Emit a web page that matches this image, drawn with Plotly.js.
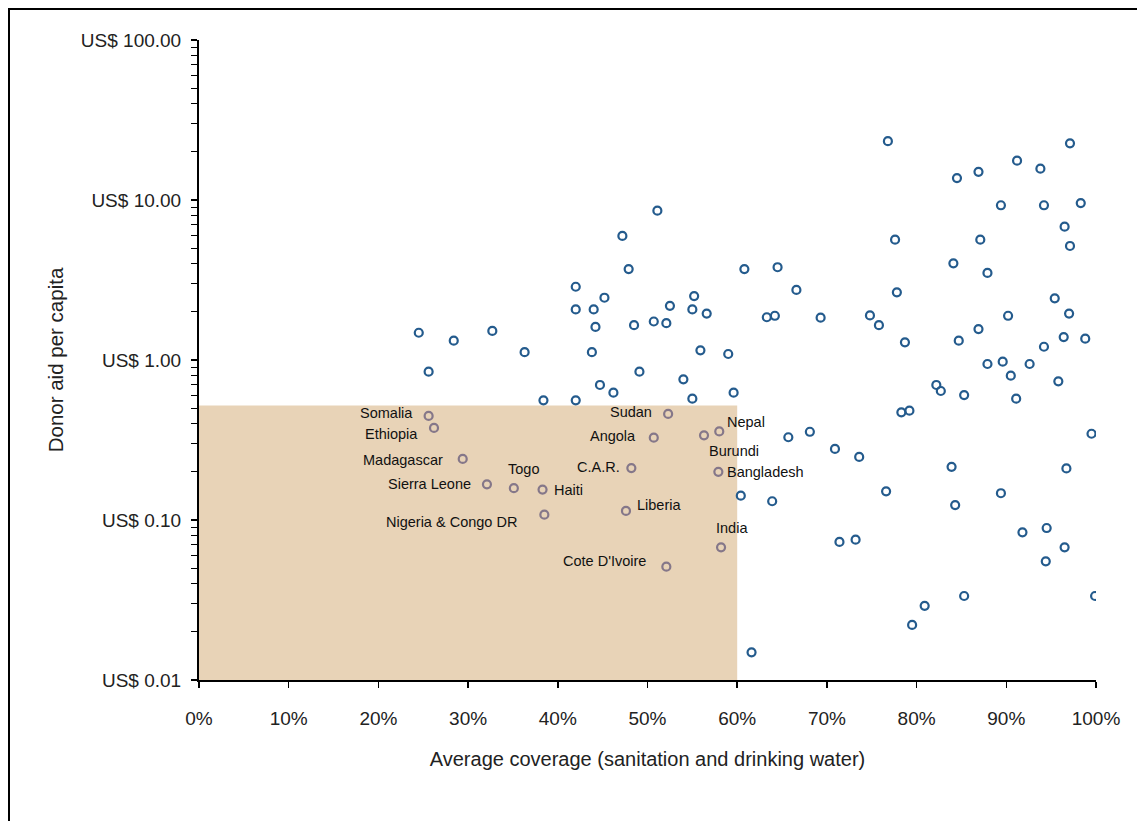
<!DOCTYPE html>
<html>
<head>
<meta charset="utf-8">
<script src="https://cdn.plot.ly/plotly-3.0.1.min.js"></script>
<style>
  html, body { margin: 0; padding: 0; background: #fff; }
  #frame {
    position: absolute; left: 8px; top: 8px; width: 1200px; height: 900px;
    border-left: 2px solid #000; border-top: 2px solid #000;
    pointer-events: none;
  }
  #chart { position: absolute; left: 0; top: 0; width: 1137px; height: 821px; }
</style>
</head>
<body>
<div id="chart"></div>
<div id="frame"></div>
<script>
// Countries without a label: average coverage (%) and donor aid per capita (US$)
const otherCoverage = [
  51.1, 47.2, 47.9, 42.0, 60.8, 64.5, 66.6, 45.2, 42.0, 44.0,
  55.2, 52.5, 55.0, 56.6, 44.2, 48.5, 50.7, 52.1, 63.3, 64.2,
  24.5, 28.4, 32.7, 36.3, 43.8, 55.9, 59.0, 25.6, 49.1, 54.0,
  44.7, 46.2, 59.6, 38.4, 42.0, 55.0,
  76.8, 97.1, 91.2, 93.8, 84.5, 86.9, 89.4, 94.2, 98.3, 96.5,
  97.1, 77.6, 87.1, 84.1, 87.9, 77.8, 95.4, 69.3, 74.8, 75.8,
  97.0, 90.2, 86.9, 78.7, 84.7, 96.4, 98.8, 94.2, 87.9, 89.6,
  92.6, 90.5, 95.8, 82.2, 82.7, 85.3, 91.1, 78.3, 79.2,
  65.7, 68.1, 70.9, 73.6, 76.6, 60.4, 63.9, 71.4, 73.2, 80.9,
  79.5, 61.6,
  99.5, 83.9, 96.7, 89.4, 84.3, 91.8, 94.5, 96.5, 94.4, 85.3, 99.9
];
const otherAid = [
  8.58, 5.96, 3.70, 2.87, 3.70, 3.80, 2.74, 2.45, 2.07, 2.07,
  2.51, 2.18, 2.07, 1.95, 1.61, 1.65, 1.74, 1.70, 1.85, 1.89,
  1.48, 1.32, 1.52, 1.12, 1.12, 1.15, 1.09, 0.845, 0.845, 0.757,
  0.698, 0.625, 0.625, 0.560, 0.560, 0.573,
  23.3, 22.6, 17.6, 15.7, 13.7, 15.0, 9.27, 9.27, 9.57, 6.81,
  5.16, 5.65, 5.65, 4.02, 3.50, 2.65, 2.43, 1.84, 1.90, 1.65,
  1.95, 1.89, 1.56, 1.29, 1.32, 1.39, 1.36, 1.21, 0.944, 0.976,
  0.944, 0.798, 0.736, 0.698, 0.640, 0.604, 0.573, 0.471, 0.482,
  0.329, 0.356, 0.278, 0.248, 0.151, 0.142, 0.131, 0.0729, 0.0753, 0.0291,
  0.0221, 0.0149,
  0.346, 0.215, 0.210, 0.147, 0.124, 0.0838, 0.0891, 0.0675, 0.0552, 0.0335, 0.0335
];

// Named countries (low coverage, low aid)
const countries = [
  "Somalia", "Ethiopia", "Madagascar", "Sierra Leone", "Togo", "Haiti",
  "Nigeria & Congo DR", "Sudan", "Angola", "Burundi", "Nepal", "Bangladesh",
  "C.A.R.", "Liberia", "India", "Cote D'Ivoire"
];
const countryCoverage = [
  25.6, 26.2, 29.4, 32.1, 35.1, 38.3,
  38.5, 52.3, 50.7, 56.3, 58.0, 57.9,
  48.2, 47.6, 58.2, 52.1
];
const countryAid = [
  0.447, 0.376, 0.241, 0.167, 0.158, 0.155,
  0.108, 0.460, 0.327, 0.338, 0.358, 0.200,
  0.211, 0.114, 0.0675, 0.0511
];

// Shaded zone: coverage below 60% and aid below this level
const zoneCoverageMax = 60;
const zoneAidMax = 0.52;
const axisAidMin = 0.01;

// Axis ticks
const yTickVals = [0.01, 0.1, 1, 10, 100];
const yTickText = ["US$ 0.01", "US$ 0.10", "US$ 1.00", "US$ 10.00", "US$ 100.00"];
const xTickVals = [0, 10, 20, 30, 40, 50, 60, 70, 80, 90, 100];
const xTickText = ["0%", "10%", "20%", "30%", "40%", "50%", "60%", "70%", "80%", "90%", "100%"];

// Where each country name sits next to its marker (pixels)
const labelPlacement = {
  "Somalia":            { anchor: "right",  dx: -14, dy: 3 },
  "Ethiopia":           { anchor: "right",  dx: -14, dy: -6 },
  "Madagascar":         { anchor: "right",  dx: -18, dy: -1 },
  "Sierra Leone":       { anchor: "right",  dx: -14, dy: 0 },
  "Togo":               { anchor: "center", dx: 10,  dy: 19 },
  "Haiti":              { anchor: "left",   dx: 9,   dy: 0 },
  "Nigeria & Congo DR": { anchor: "right",  dx: -25, dy: -7 },
  "Sudan":              { anchor: "right",  dx: -14, dy: 2 },
  "Angola":             { anchor: "right",  dx: -16, dy: 2 },
  "Burundi":            { anchor: "left",   dx: 3,   dy: -16 },
  "Nepal":              { anchor: "left",   dx: 6,   dy: 9 },
  "Bangladesh":         { anchor: "left",   dx: 7,   dy: 0 },
  "C.A.R.":             { anchor: "right",  dx: -9,  dy: 1 },
  "Liberia":            { anchor: "left",   dx: 9,   dy: 6 },
  "India":              { anchor: "center", dx: 11,  dy: 19 },
  "Cote D'Ivoire":      { anchor: "right",  dx: -18, dy: 6 }
};

const FONT = "'Liberation Sans Narrow', 'Arial Narrow', 'Liberation Sans', Arial, sans-serif";

// Minor ticks at 2..9 within each decade
const yMinor = [];
for (let e = -2; e < 2; e++) {
  for (let m = 2; m <= 9; m++) yMinor.push(m * Math.pow(10, e));
}

const traces = [
  // shaded low-coverage / low-aid zone
  {
    type: "scatter", mode: "lines",
    x: [0, zoneCoverageMax, zoneCoverageMax, 0, 0],
    y: [axisAidMin, axisAidMin, zoneAidMax, zoneAidMax, axisAidMin],
    fill: "toself", fillcolor: "#e8d3b7",
    line: { width: 0, color: "rgba(0,0,0,0)" },
    hoverinfo: "skip", showlegend: false
  },
  {
    type: "scatter", mode: "markers",
    x: otherCoverage, y: otherAid,
    marker: { symbol: "circle-open", size: 8, color: "#245b8d", line: { width: 2.2, color: "#245b8d" } },
    hoverinfo: "x+y", showlegend: false
  },
  {
    type: "scatter", mode: "markers",
    x: countryCoverage, y: countryAid, text: countries,
    marker: { symbol: "circle-open", size: 8, color: "#857789", line: { width: 2.2, color: "#857789" } },
    hoverinfo: "text+x+y", showlegend: false
  }
];

const annotations = countries.map((name, i) => {
  const p = labelPlacement[name];
  return {
    x: countryCoverage[i], y: Math.log10(countryAid[i]),
    xref: "x", yref: "y", text: name, showarrow: false,
    xanchor: p.anchor, yanchor: "middle", xshift: p.dx, yshift: p.dy,
    font: { family: FONT, size: 14.5, color: "#111" }
  };
});

const layout = {
  width: 1137, height: 821,
  margin: { l: 199, r: 41, t: 40, b: 141 },
  paper_bgcolor: "#ffffff", plot_bgcolor: "#ffffff",
  font: { family: FONT, color: "#222" },
  showlegend: false,
  xaxis: {
    range: [0, 100], tickvals: xTickVals, ticktext: xTickText,
    ticks: "outside", ticklen: 6, tickwidth: 1.5, tickcolor: "#000",
    showline: true, linecolor: "#000", linewidth: 2,
    showgrid: false, zeroline: false,
    tickfont: { family: FONT, size: 19, color: "#222" },
    ticklabelstandoff: 14,
    title: { text: "Average coverage (sanitation and drinking water)", font: { family: FONT, size: 20, color: "#222" }, standoff: 24 }
  },
  yaxis: {
    type: "log", range: [-2, 2],
    tickvals: yTickVals, ticktext: yTickText,
    ticks: "outside", ticklen: 6, tickwidth: 1.5, tickcolor: "#000",
    minor: { tickvals: yMinor, ticks: "outside", ticklen: 6, tickwidth: 1.2, tickcolor: "#000", showgrid: false },
    showline: true, linecolor: "#000", linewidth: 2,
    showgrid: false, zeroline: false,
    tickfont: { family: FONT, size: 19, color: "#222" },
    ticklabelstandoff: 6,
    title: { text: "Donor aid per capita", font: { family: FONT, size: 20.5, color: "#222" }, standoff: 12 }
  },
  annotations: annotations
};

Plotly.newPlot("chart", traces, layout, { staticPlot: true, displayModeBar: false });
</script>
</body>
</html>
